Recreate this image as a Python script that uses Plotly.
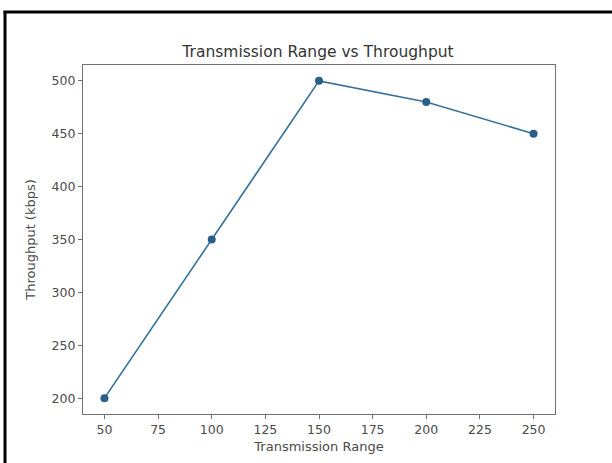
import plotly.graph_objects as go

ranges = [50, 100, 150, 200, 250]
throughput = [200, 350, 500, 480, 450]
x_ticks = [50, 75, 100, 125, 150, 175, 200, 225, 250]
y_ticks = [200, 250, 300, 350, 400, 450, 500]

W, H = 612, 463
L, R, T, B = 83, 555, 65, 420
pw, ph = R - L, B - T

def px(x):
    return (x - L) / pw

def py(y):
    return (B - y) / ph

font = "DejaVu Sans"
fig = go.Figure()
fig.add_trace(go.Scatter(
    x=ranges, y=throughput, mode="lines+markers",
    line=dict(color="#35709a", width=1.6),
    marker=dict(color="#2a5f88", size=8),
    showlegend=False,
))

axis_common = dict(
    showline=True, linecolor="#707070", linewidth=1.2, mirror=True,
    ticks="outside", ticklen=4, tickcolor="#707070", tickwidth=1,
    showgrid=False, zeroline=False,
    tickfont=dict(family=font, size=12.5, color="#4a4a4a"),
)
fig.update_xaxes(range=[40, 260], tickvals=x_ticks,
                 title=dict(text="Transmission Range", font=dict(family=font, size=13, color="#4a4a4a"), standoff=5),
                 **axis_common)
fig.update_yaxes(range=[185, 515], tickvals=y_ticks,
                 title=dict(text="Throughput (kbps)", font=dict(family=font, size=13, color="#4a4a4a"), standoff=12),
                 **axis_common)

fig.update_layout(
    width=W, height=H,
    margin=dict(l=L, r=W - R, t=T, b=H - B, pad=0),
    paper_bgcolor="white", plot_bgcolor="white",
    title=dict(text="Transmission Range vs Throughput", x=px(318), xref="paper",
               xanchor="center", y=1 - 52 / H, yanchor="middle",
               font=dict(family=font, size=15.5, color="#333")),
    shapes=[
        dict(type="line", xref="paper", yref="paper", x0=px(5), x1=px(5), y0=py(10), y1=py(470),
             line=dict(color="black", width=3)),
        dict(type="line", xref="paper", yref="paper", x0=px(3.5), x1=px(620), y0=py(11), y1=py(11),
             line=dict(color="black", width=3)),
    ],
)

fig.write_html("out.html")
